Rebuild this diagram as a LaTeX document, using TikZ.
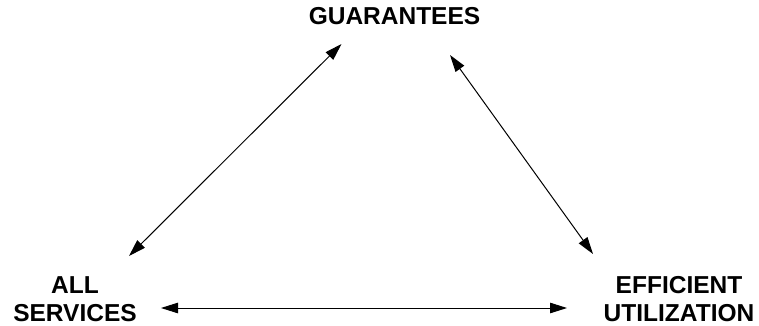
\documentclass[tikz,border=0pt]{standalone}
\usepackage{fontspec}
\setmainfont{Liberation Sans}
\usetikzlibrary{arrows.meta}
\begin{document}
\begin{tikzpicture}[x=1pt,y=-1pt,
  lbl/.style={font=\fontsize{24.5}{28.5}\selectfont\bfseries, align=center, inner sep=0pt, anchor=base},
  conn/.style={line width=1pt, {Triangle[length=17pt,width=10.5pt]}-{Triangle[length=17pt,width=10.5pt]}}]
\useasboundingbox (0,0) rectangle (759,326);
\node[lbl] (g) at (394.5,25) {GUARANTEES};
\node[lbl] (s) at (75,321.5) {ALL\\SERVICES};
\node[lbl] (e) at (679,321.5) {EFFICIENT\\UTILIZATION};
\coordinate (gl) at (341.5,44);
\coordinate (sl) at (129,256);
\coordinate (gr) at (450,55);
\coordinate (er) at (593,254);
\coordinate (sh) at (161,308);
\coordinate (eh) at (567,308);
\draw[conn] (sl) -- (gl);
\draw[conn] (gr) -- (er);
\draw[conn] (sh) -- (eh);
\end{tikzpicture}
\end{document}
